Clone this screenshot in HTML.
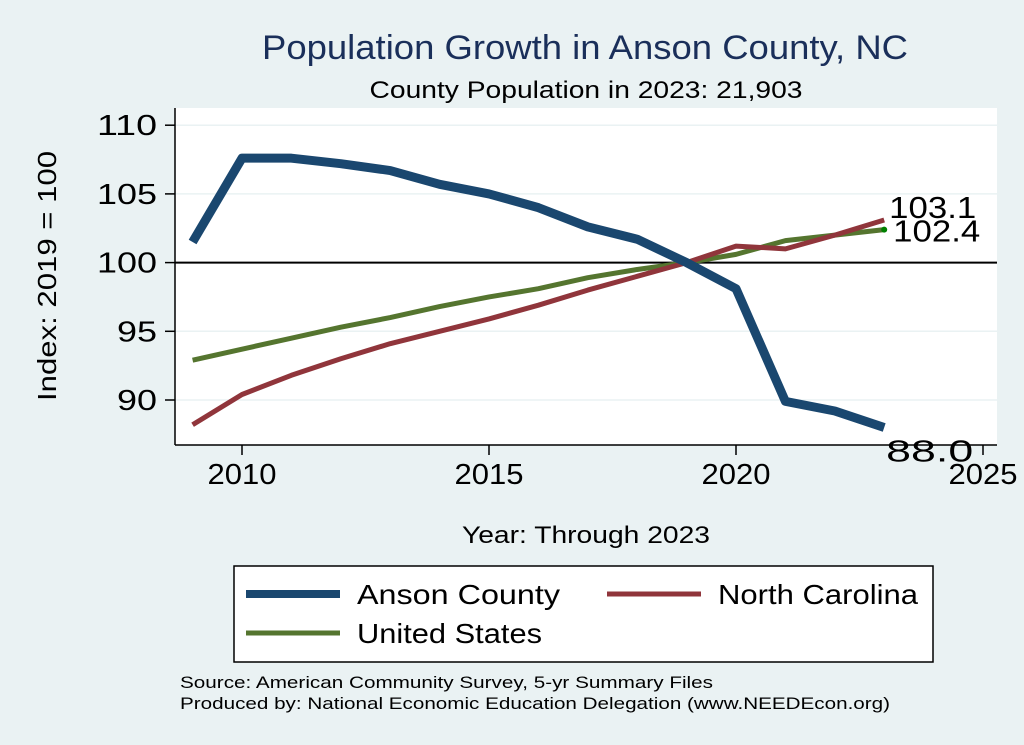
<!DOCTYPE html>
<html><head><meta charset="utf-8"><style>
body{margin:0;background:#eaf2f3;}
svg{display:block;font-family:"Liberation Sans",Arial,sans-serif;}
</style></head><body>
<svg width="1024" height="745" viewBox="0 0 1024 745">
<rect width="1024" height="745" fill="#eaf2f3"/>
<text x="585" y="59" font-size="34" fill="#1a2f5a" text-anchor="middle" textLength="646" lengthAdjust="spacingAndGlyphs">Population Growth in Anson County, NC</text>
<text x="586" y="98" font-size="24" text-anchor="middle" textLength="433" lengthAdjust="spacingAndGlyphs">County Population in 2023: 21,903</text>
<rect x="175" y="108" width="822" height="337" fill="#fff"/>
<g id="grid"></g>
<g id="axes"></g>
<g id="series"></g>
<text transform="translate(56,276) rotate(-90)" font-size="26" text-anchor="middle" textLength="250" lengthAdjust="spacingAndGlyphs">Index: 2019 = 100</text>
<text x="586" y="543" font-size="24" text-anchor="middle" textLength="248" lengthAdjust="spacingAndGlyphs">Year: Through 2023</text>
<g>
<rect x="234" y="566" width="699" height="96" fill="#fff" stroke="#000" stroke-width="1.5"/>
<line x1="246" y1="594" x2="340" y2="594" stroke="#1a476f" stroke-width="8"/>
<text x="357" y="604" font-size="28" textLength="203" lengthAdjust="spacingAndGlyphs">Anson  County</text>
<line x1="607" y1="594" x2="701" y2="594" stroke="#90353b" stroke-width="5"/>
<text x="718" y="604" font-size="28" textLength="200" lengthAdjust="spacingAndGlyphs">North Carolina</text>
<line x1="246" y1="633" x2="340" y2="633" stroke="#55752f" stroke-width="5"/>
<text x="357" y="643" font-size="28" textLength="185" lengthAdjust="spacingAndGlyphs">United States</text>
</g>
<text x="180" y="688" font-size="17" textLength="533" lengthAdjust="spacingAndGlyphs">Source: American Community Survey, 5-yr Summary Files</text>
<text x="180" y="709" font-size="17" textLength="710" lengthAdjust="spacingAndGlyphs">Produced by: National Economic Education Delegation (www.NEEDEcon.org)</text>
</svg>
<script>
const years=[2009,2010,2011,2012,2013,2014,2015,2016,2017,2018,2019,2020,2021,2022,2023];
const anson=[101.5,107.6,107.6,107.2,106.7,105.7,105.0,104.0,102.6,101.7,100,98.1,89.9,89.2,88.0];
const nc=[88.2,90.4,91.8,93.0,94.1,95.0,95.9,96.9,98.0,99.0,100,101.2,101.0,102.0,103.1];
const us=[92.9,93.7,94.5,95.3,96.0,96.8,97.5,98.1,98.9,99.5,100,100.6,101.6,102.0,102.4];
const yTicks=[90,95,100,105,110];
const xTicks=[2010,2015,2020,2025];
const X=v=>242+(v-2010)*49.4;
const Y=v=>400-(v-90)*13.74;
const NS="http://www.w3.org/2000/svg";
function mk(tag,attrs,parent,txt){const e=document.createElementNS(NS,tag);for(const k in attrs)e.setAttribute(k,attrs[k]);if(txt!==undefined)e.textContent=txt;parent.appendChild(e);return e;}
const grid=document.getElementById('grid'),axes=document.getElementById('axes'),ser=document.getElementById('series');
yTicks.forEach(t=>{
 const g=mk('line',{x1:175,x2:997,y1:Y(t),y2:Y(t),stroke:'#eaf2f3','stroke-width':1.5},grid);
 
 
 const tk=mk('line',{x1:165,x2:175,y1:Y(t),y2:Y(t),stroke:'#000','stroke-width':1.5},axes);
 
 
 const s=String(t);
 const lb=mk('text',{x:157,y:Y(t)+10,'font-size':29,'text-anchor':'end',textLength:s.length*20,lengthAdjust:'spacingAndGlyphs'},axes,s);
 
 
});
const ref=mk('line',{x1:175,x2:997,y1:Y(100),y2:Y(100),stroke:'#000','stroke-width':2},grid);


xTicks.forEach(t=>{
 const tk=mk('line',{x1:X(t),x2:X(t),y1:445,y2:455,stroke:'#000','stroke-width':1.5},axes);
 
 
 const lb=mk('text',{x:X(t),y:484,'font-size':29,'text-anchor':'middle',textLength:69,lengthAdjust:'spacingAndGlyphs'},axes,String(t));
 
 
});
const ya=mk('line',{x1:175,x2:175,y1:108,y2:445,stroke:'#000','stroke-width':1.5},axes);


const xa=mk('line',{x1:175,x2:997,y1:445,y2:445,stroke:'#000','stroke-width':1.5},axes);


function line(vals,color,w,name){
 const p=mk('polyline',{points:vals.map((v,i)=>X(years[i])+','+Y(v)).join(' '),fill:'none',stroke:color,'stroke-width':w,'stroke-linejoin':'round'},ser);
 
 
}
line(us,'#55752f',5,'line-united-states');
line(nc,'#90353b',5,'line-north-carolina');
line(anson,'#1a476f',9,'line-anson-county');
const last=years.length-1;
const dot=mk('circle',{cx:X(years[last]),cy:Y(us[last]),r:3,fill:'#008000'},ser);


function endLabel(v,dx,dy,name){
 const t=mk('text',{x:X(years[last])+dx,y:Y(v)+dy,'font-size':31,textLength:87,lengthAdjust:'spacingAndGlyphs'},ser,v.toFixed(1));
 
 
}
endLabel(nc[last],5,-2,'label-nc-end');
endLabel(us[last],9,12,'label-us-end');
endLabel(anson[last],2,34,'label-anson-end');
</script>
</body></html>
